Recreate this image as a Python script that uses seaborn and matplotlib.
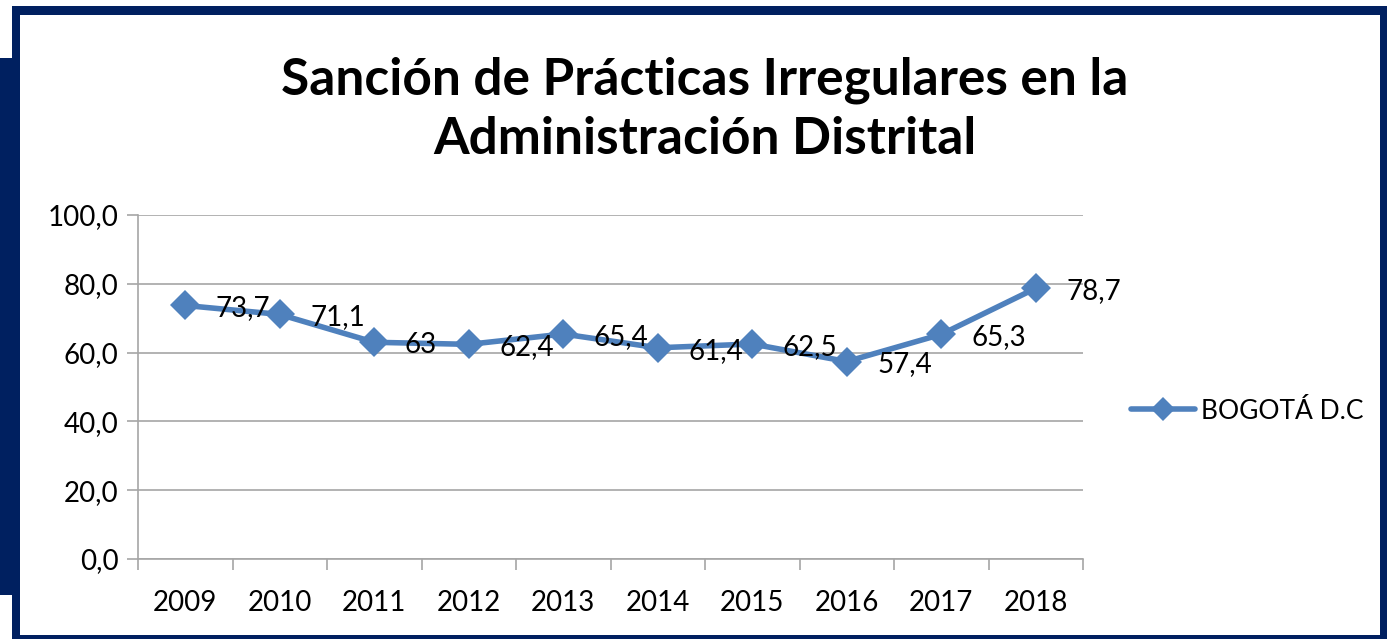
import matplotlib
matplotlib.use("Agg")
import matplotlib.pyplot as plt
from matplotlib.patches import Rectangle
from matplotlib.ticker import MultipleLocator, FixedLocator
import seaborn as sns
import pandas as pd

years = ["2009", "2010", "2011", "2012", "2013", "2014", "2015", "2016", "2017", "2018"]
values = [73.7, 71.1, 63.0, 62.4, 65.4, 61.4, 62.5, 57.4, 65.3, 78.7]
labels = ["73,7", "71,1", "63", "62,4", "65,4", "61,4", "62,5", "57,4", "65,3", "78,7"]
series_name = "BOGOTÁ D.C"
title = "Sanción de Prácticas Irregulares en la\nAdministración Distrital"

sns.set_theme(style="white")
plt.rcParams['font.family'] = ['Lato', 'DejaVu Sans']
plt.rcParams['text.color'] = 'black'
plt.rcParams['xtick.labelcolor'] = 'black'
plt.rcParams['ytick.labelcolor'] = 'black'

W, H = 1387, 639
fig = plt.figure(figsize=(W / 100, H / 100), dpi=100)
navy = "#002060"

def px_rect(x0, y0, x1, y1):
    fig.patches.append(Rectangle((x0 / W, 1 - y1 / H), (x1 - x0) / W, (y1 - y0) / H,
                                 transform=fig.transFigure, facecolor=navy,
                                 edgecolor="none", zorder=0))

px_rect(12, 6, 1387, 15)      # top
px_rect(12, 6, 20, 639)       # left thin
px_rect(0, 58, 20, 595)       # left block
px_rect(12, 635, 1387, 639)   # bottom
px_rect(1380, 6, 1387, 639)   # right

ax = fig.add_axes([138 / W, 1 - 559 / H, (1083 - 138) / W, (559 - 215) / H])
df = pd.DataFrame({"Año": years, "Valor": values, "Serie": series_name})
color = "#4F81BD"
sns.lineplot(data=df, x="Año", y="Valor", hue="Serie", palette=[color], ax=ax,
             marker="D", markersize=15, linewidth=4, markeredgewidth=0, sort=False)

for i, (v, t) in enumerate(zip(values, labels)):
    ax.annotate(t, (i, v), xytext=(22, -2), textcoords="offset points",
                ha="left", va="center", fontsize=20, color="black")

ax.set_xlim(-0.5, 9.5)
ax.set_ylim(0, 100)
ax.yaxis.set_major_locator(MultipleLocator(20))
ax.set_yticklabels([f"{v:.1f}".replace(".", ",") for v in ax.get_yticks()])
ax.grid(axis="y", color="#A6A6A6", linewidth=1.2)
ax.grid(axis="x", visible=False)
for s in ["top", "right"]:
    ax.spines[s].set_visible(False)
ax.spines["left"].set_color("#A6A6A6")
ax.spines["bottom"].set_color("#A6A6A6")
ax.spines["left"].set_linewidth(1.2)
ax.spines["bottom"].set_linewidth(1.2)
ax.xaxis.set_minor_locator(FixedLocator([i - 0.5 for i in range(11)]))
ax.tick_params(axis="x", which="major", length=0, pad=22, labelsize=20)
ax.tick_params(axis="x", which="minor", length=8, color="#A6A6A6", width=1.2, direction="out", bottom=True)
ax.tick_params(axis="y", which="major", length=8, color="#A6A6A6", width=1.2, direction="out", left=True, labelsize=20, pad=6)
ax.set_xlabel("")
ax.set_ylabel("")

leg = ax.legend(loc="center left", bbox_to_anchor=(1.026, 0.43), frameon=False,
                fontsize=19, handlelength=2.4, handletextpad=0.25)
for lh in leg.get_lines():
    lh.set_markersize(12)

fig.text(0.508, 1 - 110 / H, title, ha="center", va="center", fontsize=37,
         fontweight="bold", linespacing=1.32, color="black")

fig.savefig("out.png", dpi=100)
